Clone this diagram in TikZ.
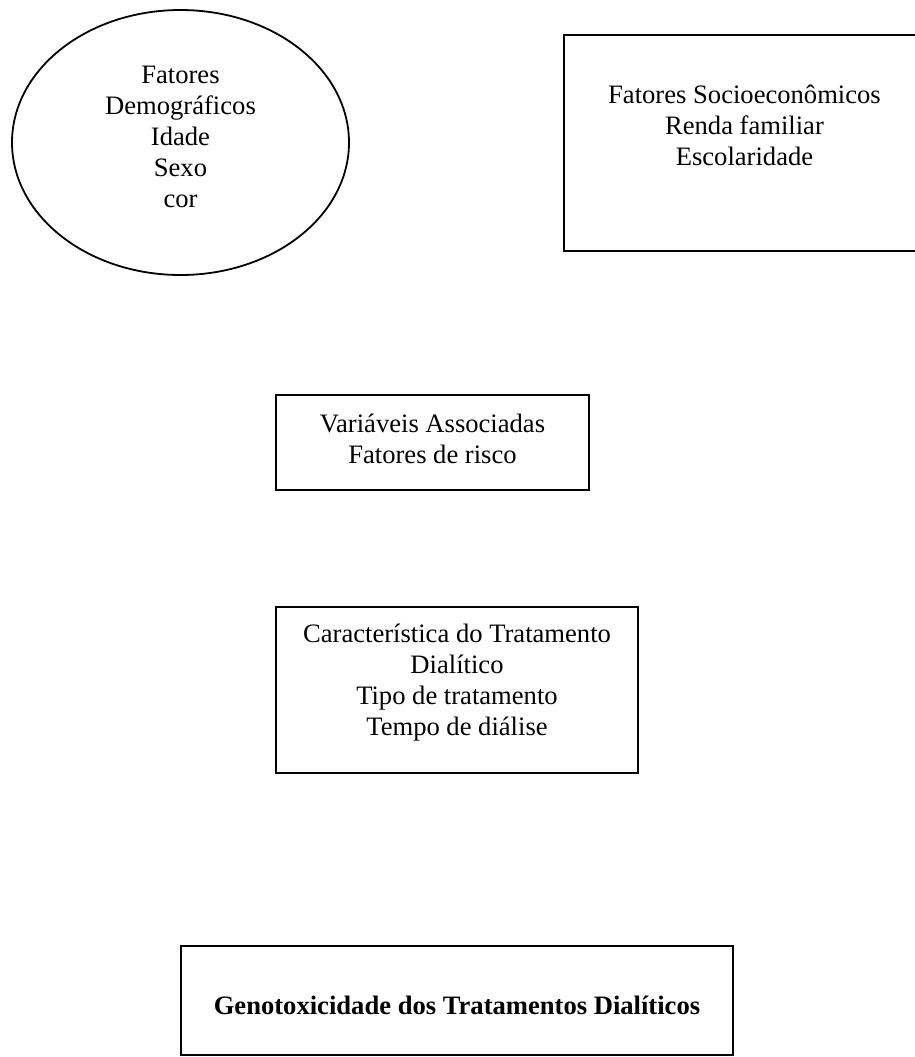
\documentclass[tikz,border=0pt]{standalone}
\usepackage{fontspec}
\setmainfont{Liberation Serif}
\usetikzlibrary{shapes.geometric}
\begin{document}
\begin{tikzpicture}[x=0.5pt,y=-0.5pt,
  frame/.style={draw=black,line width=0.9pt,inner sep=0pt,outer sep=0pt},
  boxframe/.style={frame,rectangle},
  ovalframe/.style={frame,ellipse},
  txt/.style={anchor=base,inner sep=0pt,font=\fontsize{13.3}{15.5}\selectfont}]
\path[use as bounding box,fill=white] (0,0) rectangle (915,1057);
\clip (0,0) rectangle (915,1057);
% frames
\node[ovalframe,minimum width=168.5pt,minimum height=132.5pt] (demo) at (180.5,142.5) {};
\node[boxframe,minimum width=180.5pt,minimum height=108pt] (socio) at (744.5,143) {};
\node[boxframe,minimum width=156.5pt,minimum height=47.5pt] (risco) at (432.5,442.5) {};
\node[boxframe,minimum width=181pt,minimum height=83pt] (trat) at (457,690) {};
\node[boxframe,minimum width=276pt,minimum height=54.5pt] (geno) at (457,1000.5) {};
% texts
\node[txt] (demotxt) at (180.5,83) {\begin{tabular}[t]{@{}c@{}}Fatores\\Demográficos\\Idade\\Sexo\\cor\end{tabular}};
\node[txt] (sociotxt) at (744.5,103) {\begin{tabular}[t]{@{}c@{}}Fatores Socioeconômicos\\Renda familiar\\Escolaridade\end{tabular}};
\node[txt] (riscotxt) at (432.5,432) {\begin{tabular}[t]{@{}c@{}}Variáveis Associadas\\Fatores de risco\end{tabular}};
\node[txt] (trattxt) at (457,642) {\begin{tabular}[t]{@{}c@{}}Característica do Tratamento\\Dialítico\\Tipo de tratamento\\Tempo de diálise\end{tabular}};
\node[txt,font=\fontsize{13.3}{15.5}\selectfont\bfseries] (genotxt) at (457,1014) {Genotoxicidade dos Tratamentos Dialíticos};
\end{tikzpicture}
\end{document}
